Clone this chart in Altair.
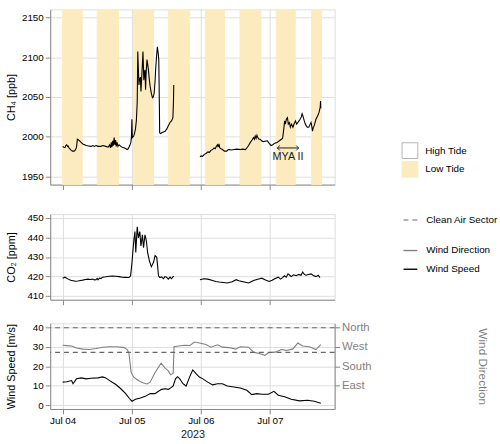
import altair as alt
import pandas as pd
from datetime import datetime, timedelta

# ---------------------------------------------------------------------------
# Measurement campaign, hours after 2023-07-04 00:00 (local time)
# ---------------------------------------------------------------------------
T0 = datetime(2023, 7, 4)

# CH4 [ppb], two measurement segments
ch4_h1 = [0.0, 0.4, 0.8, 1.1, 1.4, 1.7, 1.9, 2.2, 2.5, 3.0, 3.4, 3.9, 4.2, 4.6, 4.8, 5.0, 5.1, 5.5,
          5.9, 6.4, 7.0, 7.6, 8.2, 9.0, 9.9, 10.5, 11.0, 11.6, 12.3, 13.3, 14.0, 15.0, 15.8, 16.3,
          16.6, 16.9, 17.1, 17.4, 17.6, 17.9, 18.1, 18.4, 18.6, 18.9, 19.2, 19.6, 20.2, 20.7, 21.5,
          22.0, 22.4, 22.8, 23.3, 23.7, 23.9, 24.05, 24.2, 24.7, 25.0, 25.3, 25.6, 25.9, 26.1, 26.3,
          26.5, 26.7, 27.0, 27.2, 27.4, 27.6, 27.9, 28.2, 28.4, 28.6, 28.8, 29.0, 29.3, 29.8, 30.1,
          30.4, 30.8, 31.2, 31.5, 31.8, 32.1, 32.3, 32.6, 32.9, 33.2, 33.4, 33.6, 33.7, 34.0, 34.4,
          35.0, 35.6, 36.2, 36.7, 37.3, 37.8, 38.1, 38.3, 38.5, 38.6]
ch4_v1 = [1988, 1987, 1986.5, 1989, 1990, 1988, 1988.5, 1986, 1985, 1983, 1982, 1982, 1982.5, 1985,
          1987, 1993, 1997, 1996, 1995, 1993, 1991, 1990, 1989, 1988.5, 1988, 1989, 1988, 1989, 1988,
          1988, 1989, 1988, 1987, 1990, 1986, 1993, 1987, 1995, 1989, 1999, 1990, 1996, 1988, 1993,
          1988, 1990, 1988, 1987, 1986, 1985, 1984, 1985, 1989, 1993, 2000, 2022, 1999, 2001, 2005,
          2010, 2020, 2043, 2107, 2085, 2065, 2072, 2075, 2057, 2070, 2084, 2107, 2071, 2080, 2084,
          2059, 2080, 2097, 2084, 2072, 2063, 2055, 2049, 2050, 2055, 2070, 2084, 2100, 2113, 2105,
          2096, 2040, 2005, 2004, 2005, 2006, 2007, 2010, 2014, 2018, 2020, 2022, 2024, 2045, 2065]
ch4_h2 = [47.7, 48.1, 48.6, 49.2, 49.8, 50.5, 51.0, 51.5, 52.1, 52.6, 53.0, 53.4, 53.8, 54.0, 54.3,
          54.6, 55.0, 55.5, 56.2, 57.0, 57.4, 57.8, 58.6, 59.5, 60.5, 61.7, 62.6, 63.5, 64.0, 64.6,
          65.2, 65.8, 66.3, 66.6, 66.9, 67.2, 67.5, 67.8, 68.2, 68.6, 69.1, 69.7, 70.3, 71.1, 71.7,
          72.4, 73.0, 73.7, 74.5, 75.3, 76.0, 76.4, 76.6, 76.9, 77.1, 77.4, 77.7, 78.1, 78.4, 78.8,
          79.1, 79.5, 80.0, 80.4, 80.9, 81.3, 81.7, 82.1, 82.5, 82.9, 83.2, 83.5, 83.8, 84.2, 84.6,
          85.0, 85.5, 85.9, 86.3, 86.6, 86.8, 87.1, 87.4, 87.7, 88.0, 88.4, 88.8, 89.1, 89.3, 89.5,
          89.6, 89.7]
ch4_v2 = [1974.7, 1976, 1975.5, 1978, 1979, 1981, 1980.5, 1983, 1984, 1986, 1985, 1988, 1990, 1987,
          1991, 1986, 1985, 1984, 1982, 1982, 1983.5, 1984, 1983.5, 1984, 1984.5, 1984, 1984.5, 1984,
          1986, 1989, 1993, 1996, 1999, 1997, 2001, 1998, 2002, 1999, 1997, 1997, 1995, 1994, 1994.5,
          1995, 1992, 1989, 1990, 1992, 1993, 1995, 1997, 1998, 2003, 2012, 2020, 2016, 2022, 2024,
          2016, 2018, 2012, 2016, 2012, 2016, 2020, 2016, 2018, 2020, 2022, 2025, 2029, 2026, 2022,
          2017, 2014, 2012, 2012, 2015, 2018, 2012, 2007, 2012, 2014, 2018, 2022, 2025, 2028, 2031,
          2034, 2038, 2045, 2036]

# CO2 [ppm], same two segments
co2_h1 = [0.0, 0.8, 1.9, 2.8, 3.6, 4.5, 5.3, 6.2, 7.0, 7.9, 8.8, 9.6, 10.5, 11.0, 11.6, 12.0, 12.3,
          12.8, 13.3, 13.9, 15.0, 16.2, 17.3, 18.5, 19.6, 20.7, 21.8, 23.0, 23.6, 24.1, 24.7, 25.1,
          25.4, 25.9, 26.3, 26.8, 27.2, 27.7, 28.1, 28.6, 29.1, 29.5, 30.1, 30.8, 31.6, 32.1, 32.7,
          33.3, 33.8, 34.4, 35.0, 35.5, 36.1, 36.7, 37.3, 37.8, 38.2, 38.6]
co2_v1 = [419.1, 419.6, 418.6, 418.0, 417.8, 417.5, 417.6, 417.9, 418.1, 418.4, 418.6, 418.4, 418.6,
          418.2, 418.3, 419.0, 418.2, 419.1, 418.9, 419.6, 419.8, 420.1, 420.2, 420.1, 419.9, 419.6,
          419.5, 419.4, 420.2, 427.4, 438.1, 443.1, 432.3, 445.5, 439.8, 443.0, 435.6, 441.4, 434.8,
          441.4, 438.1, 432.3, 428.2, 424.9, 427.4, 430.7, 429.8, 420.3, 419.4, 419.8, 418.8, 419.9,
          419.6, 418.6, 419.6, 418.8, 419.5, 420.2]
co2_h2 = [47.7, 49.0, 50.4, 52.1, 53.2, 54.4, 55.8, 57.2, 58.9, 60.3, 61.2, 62.3, 63.5, 64.6, 65.5,
          66.3, 67.8, 69.2, 70.3, 71.7, 72.8, 73.7, 74.9, 75.7, 76.4, 77.1, 77.7, 78.3, 78.9, 79.4,
          80.2, 81.1, 82.0, 82.8, 83.4, 84.0, 84.5, 85.4, 86.3, 87.1, 88.0, 88.8, 89.4]
co2_v2 = [418.3, 418.8, 418.6, 417.9, 417.4, 417.1, 416.9, 416.6, 417.3, 418.3, 417.8, 417.4, 417.0,
          416.6, 417.3, 417.9, 418.5, 419.1, 418.3, 417.4, 418.0, 418.8, 419.6, 418.6, 419.4, 420.3,
          419.6, 421.3, 420.6, 419.9, 420.8, 420.4, 421.0, 420.6, 422.2, 421.0, 420.6, 421.0, 421.3,
          420.5, 419.9, 420.6, 419.4]

# Wind speed [m/s] and wind direction [deg]
ws_h = [0.0, 1.4, 3.1, 3.6, 4.8, 6.5, 8.2, 9.9, 12.2, 13.9, 15.0, 16.8, 18.5, 20.2, 21.9, 23.2, 24.1,
        25.3, 27.0, 28.7, 30.4, 32.1, 33.3, 34.4, 35.6, 36.7, 37.8, 38.4, 39.2, 39.9, 40.7, 41.8, 42.9,
        44.1, 45.2, 46.4, 47.5, 48.7, 50.4, 52.1, 53.8, 55.5, 57.2, 59.5, 61.7, 64.0, 65.7, 67.5,
        69.2, 71.5, 73.4, 74.9, 77.1, 79.4, 82.3, 85.1, 87.4, 89.7]
ws_v = [11.8, 12.0, 12.6, 11.0, 13.5, 14.0, 13.5, 13.8, 14.0, 14.5, 14.0, 12.1, 10.6, 8.4, 5.9, 3.4,
        2.0, 3.0, 3.7, 4.5, 5.9, 5.9, 7.1, 8.1, 8.4, 8.1, 9.1, 9.9, 13.5, 14.6, 13.5, 11.0, 9.8, 14.4,
        18.1, 16.1, 14.4, 13.5, 11.8, 10.4, 11.0, 11.0, 9.8, 9.3, 8.8, 7.6, 5.4, 5.9, 5.6, 5.6, 7.1,
        5.1, 4.3, 3.0, 2.2, 2.5, 2.0, 1.0]
wd_h = [0.0, 1.4, 3.1, 4.8, 7.0, 9.3, 11.6, 13.9, 16.2, 19.0, 21.3, 22.4, 23.0, 23.8, 24.7, 26.4,
        28.1, 29.3, 30.4, 32.1, 34.2, 35.6, 36.7, 37.5, 38.4, 38.7, 40.2, 42.4, 44.1, 45.8, 47.5,
        49.8, 51.5, 53.8, 55.5, 57.8, 60.1, 61.7, 64.6, 66.3, 68.6, 70.3, 71.5, 73.8, 76.0, 77.7,
        80.0, 81.7, 83.4, 85.7, 88.0, 89.7]
wd_v = [277, 275, 273, 264, 259, 257, 262, 268, 270, 270, 266, 257, 242, 151, 129, 113, 102, 98, 106,
        151, 194, 171, 158, 140, 148, 270, 273, 277, 275, 292, 287, 280, 268, 279, 268, 266, 259, 270,
        268, 245, 238, 230, 242, 245, 257, 253, 260, 287, 273, 270, 257, 280]

# Clean air sector bounds [deg]
clean_air = [244, 358]
dir_ticks = [90, 180, 270, 360]
dir_names = ["East", "South", "West", "North"]

# Low-tide periods [h]
low_start = [0.0, 12.0, 24.6, 36.8, 49.6, 61.6, 74.2, 86.5]
low_end = [6.8, 19.4, 31.6, 44.1, 56.2, 68.9, 80.8, 89.9]
tide_names = ["High Tide", "Low Tide"]

# MYA II sampling window
mya_start, mya_end, mya_level, mya_label_level = 74.6, 82.0, 1986, 1975


def stamp(hours):
    return [T0 + timedelta(hours=h) for h in hours]


ch4 = pd.DataFrame({
    "time": stamp(ch4_h1 + ch4_h2),
    "value": ch4_v1 + ch4_v2,
    "seg": [1] * len(ch4_h1) + [2] * len(ch4_h2),
})
co2 = pd.DataFrame({
    "time": stamp(co2_h1 + co2_h2),
    "value": co2_v1 + co2_v2,
    "seg": [1] * len(co2_h1) + [2] * len(co2_h2),
})
speed = pd.DataFrame({"time": stamp(ws_h), "value": ws_v, "series": "Wind Speed"})
direction = pd.DataFrame({"time": stamp(wd_h), "value": wd_v, "series": "Wind Direction"})
sector = pd.DataFrame({"value": clean_air, "kind": "Clean Air Sector"})
tides = pd.DataFrame({"start": stamp(low_start), "end": stamp(low_end), "tide": "Low Tide"})
mya = pd.DataFrame({"start": stamp([mya_start]), "end": stamp([mya_end]), "level": [mya_level],
                    "mid": stamp([(mya_start + mya_end) / 2]), "lab": [mya_label_level],
                    "text": ["MYA II"]})

# ---------------------------------------------------------------------------
W, H1, H2, H3 = 289, 178, 87, 87
FONT = "Liberation Sans"
LOW = "#FDEBC0"

x_scale = alt.Scale(domain=[alt.DateTime(year=2023, month=7, date=3, hours=19, minutes=40),
                            alt.DateTime(year=2023, month=7, date=7, hours=22, minutes=30)])
day_ticks = [alt.DateTime(year=2023, month=7, date=d) for d in (4, 5, 6, 7)]
x_plain = alt.Axis(values=day_ticks, labels=False, title=None)
x_full = alt.Axis(values=day_ticks, format="%b %d", title="2023", titleFontSize=11,
                  titleColor="#1a1a1a", titleFontWeight="normal", titlePadding=3, labelPadding=2)


def y_axis(title, values):
    return alt.Axis(title=title, values=values, format="d", titleX=-39, titleBaseline="middle",
                    titleFontWeight="normal")


# --- CH4 panel ---
tide_legend = alt.Legend(title=None, orient="none", legendX=357, legendY=135, symbolType="square",
                         symbolSize=256, symbolStrokeWidth=1, rowPadding=-4.5, labelOffset=7)
bands = alt.Chart(tides).mark_rect().encode(
    x=alt.X("start:T", scale=x_scale, axis=x_plain),
    x2="end:T",
    y=alt.value(0),
    y2=alt.value(H1),
    fill=alt.Fill("tide:N", scale=alt.Scale(domain=tide_names, range=["#ffffff", LOW]),
                  legend=tide_legend),
    stroke=alt.Stroke("tide:N", scale=alt.Scale(domain=tide_names, range=["#b3b3b3", LOW]),
                      legend=tide_legend),
)
ch4_line = alt.Chart(ch4).mark_line(color="black", strokeWidth=1.1).encode(
    x=alt.X("time:T", scale=x_scale, axis=x_plain),
    y=alt.Y("value:Q", scale=alt.Scale(domain=[1940, 2160], nice=False, zero=False),
            axis=y_axis("CH₄ [ppb]", [1950, 2000, 2050, 2100, 2150])),
    detail="seg:N",
)
mya_rule = alt.Chart(mya).mark_rule(color="#1a1a1a", strokeWidth=1).encode(
    x="start:T", x2="end:T", y="level:Q")
mya_left = alt.Chart(mya).mark_point(shape="M1,-1L0,0L1,1", filled=False, size=25,
                                     color="#1a1a1a", strokeWidth=1, opacity=1).encode(
    x="start:T", y="level:Q")
mya_right = alt.Chart(mya).mark_point(shape="M-1,-1L0,0L-1,1", filled=False, size=25,
                                      color="#1a1a1a", strokeWidth=1, opacity=1).encode(
    x="end:T", y="level:Q")
mya_text = alt.Chart(mya).mark_text(font=FONT, fontSize=11, color="#1a1a1a").encode(
    x="mid:T", y="lab:Q", text="text:N")
p1 = alt.layer(bands, ch4_line, mya_rule, mya_left, mya_right, mya_text).properties(
    width=W, height=H1)

# --- CO2 panel ---
p2 = alt.Chart(co2).mark_line(color="black", strokeWidth=1.1).encode(
    x=alt.X("time:T", scale=x_scale, axis=x_plain),
    y=alt.Y("value:Q", scale=alt.Scale(domain=[408, 452], nice=False, zero=False),
            axis=y_axis("CO₂ [ppm]", [410, 420, 430, 440, 450])),
    detail="seg:N",
).properties(width=W, height=H2)

# --- Wind panel ---
wind_legend = alt.Legend(title=None, orient="none", legendX=358, legendY=237, symbolType="stroke",
                         symbolSize=196, symbolStrokeWidth=1.4, rowPadding=6, labelOffset=8)
sector_legend = alt.Legend(title=None, orient="none", legendX=358, legendY=206, symbolType="stroke",
                           symbolSize=196, symbolStrokeWidth=1.1, symbolStrokeColor="#666666",
                           symbolDash=[3.5, 3], labelOffset=8)
series_color = alt.Color("series:N", scale=alt.Scale(domain=["Wind Direction", "Wind Speed"],
                                                     range=["#808080", "#000000"]),
                         legend=wind_legend)
# direction axis shares the panel with speed: 9 degrees per m/s
dir_scale = alt.Scale(domain=[-18, 378], nice=False, zero=False)
label_expr = " : ".join(f"datum.value == {v} ? '{n}'" for v, n in zip(dir_ticks[:-1], dir_names[:-1]))
label_expr += f" : '{dir_names[-1]}'"
dir_axis = alt.Axis(orient="right", title="Wind Direction", values=dir_ticks,
                    labelExpr=label_expr, labelOverlap=False, labelColor="#7f7f7f",
                    labelFontSize=11.5, titleColor="#7f7f7f", titleFontSize=12,
                    titleFontWeight="normal", titleX=150, titleAngle=90,
                    titleBaseline="middle", tickColor="#7f7f7f")

speed_line = alt.Chart(speed).mark_line(strokeWidth=1.1).encode(
    x=alt.X("time:T", scale=x_scale, axis=x_full),
    y=alt.Y("value:Q", scale=alt.Scale(domain=[-2, 42], nice=False, zero=False),
            axis=y_axis("Wind Speed [m/s]", [0, 10, 20, 30, 40])),
    color=series_color,
)
dir_line = alt.Chart(direction).mark_line(strokeWidth=1.1).encode(
    x=alt.X("time:T", scale=x_scale, axis=x_full),
    y=alt.Y("value:Q", scale=dir_scale, axis=dir_axis),
    color=series_color,
)
sector_rule = alt.Chart(sector).mark_rule(color="#666666", strokeWidth=1.1).encode(
    y=alt.Y("value:Q", scale=dir_scale, axis=dir_axis),
    strokeDash=alt.StrokeDash("kind:N", scale=alt.Scale(domain=["Clean Air Sector"],
                                                        range=[[5, 4]]),
                              legend=sector_legend),
)
p3 = alt.layer(speed_line, alt.layer(dir_line, sector_rule)).resolve_scale(y="independent").properties(
    width=W, height=H3)

lower = alt.vconcat(p2, p3, spacing=24, bounds="flush")
chart = alt.vconcat(p1, lower, spacing=30, bounds="flush").properties(
    padding={"top": 5, "left": 5, "right": 2, "bottom": 0}
).configure_axis(
    grid=False, domainColor="#000000", domainWidth=1, tickColor="#333333", tickSize=3.5, tickWidth=1,
    labelColor="#4d4d4d", labelFont=FONT, labelFontSize=10.5, labelPadding=2,
    titleFont=FONT, titleFontSize=11.5, titleColor="#1a1a1a", titleFontWeight="normal",
).configure_legend(
    labelFont=FONT, labelFontSize=9, labelColor="#1a1a1a", padding=0,
).configure_view(stroke=None).configure(background="white")

chart.save("out.html", embed_options={"renderer": "svg", "actions": False})
